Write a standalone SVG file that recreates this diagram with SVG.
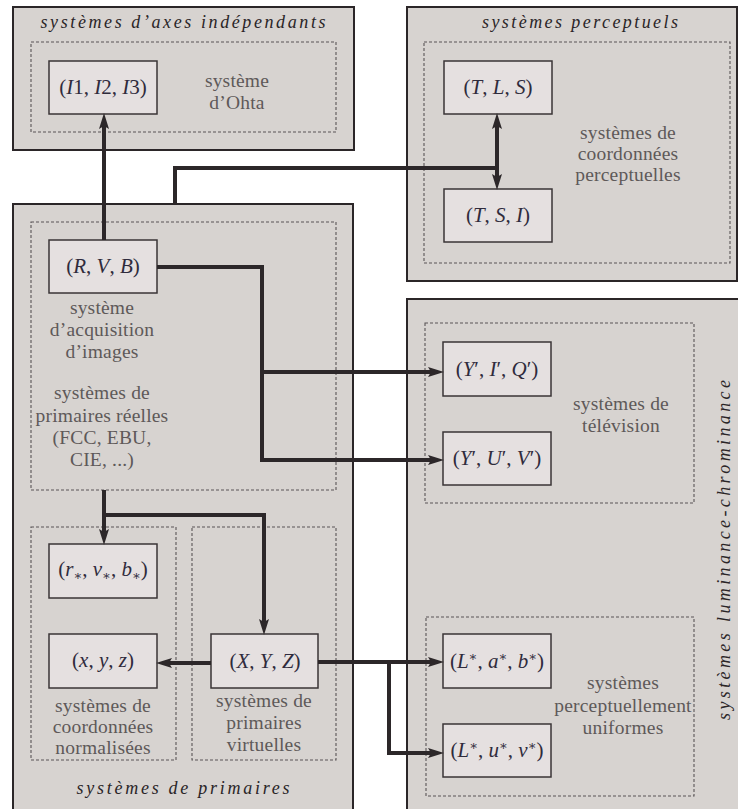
<svg xmlns="http://www.w3.org/2000/svg" width="738" height="809" viewBox="0 0 738 809">
<style>
.panel{fill:#d7d3d0;stroke:#2b2628;stroke-width:2}
.dash{fill:none;stroke:#5a5556;stroke-width:1.1;stroke-dasharray:3 2}
.node{fill:#e5e0e0;stroke:#3a3536;stroke-width:1.5}
text{font-family:'Liberation Serif','Times New Roman','DejaVu Serif','Noto Serif',serif}
.title{font-style:italic;font-size:18px;fill:#2a2527;text-anchor:middle}
.lbl{font-size:19.5px;letter-spacing:0.2px;fill:#5e5959;text-anchor:middle}
.math{font-size:21px;fill:#2f2b3c;text-anchor:middle}
.v{font-style:italic}
.sm{font-size:13px}
.conn{fill:none;stroke:#2c2729;stroke-width:4;stroke-linejoin:miter}
</style>
<defs>
<marker id="ah" markerUnits="userSpaceOnUse" markerWidth="18" markerHeight="12" viewBox="0 0 18 12" refX="3" refY="5" orient="auto-start-reverse">
<path d="M0,0 L16,5 L0,10 L3,5 z" fill="#2c2729"/>
</marker>
</defs>

<g id="panel-axes">
<rect class="panel" x="13" y="7" width="341" height="143"/>
<text class="title" x="183" y="28" textLength="285" lengthAdjust="spacing">systèmes d’axes indépendants</text>
<rect class="dash" x="31" y="42" width="305" height="90"/>
<text class="lbl" x="237" y="87">système</text>
<text class="lbl" x="237" y="109">d’Ohta</text>
</g>

<g id="panel-perceptuels">
<rect class="panel" x="407" y="7" width="330" height="274"/>
<text class="title" x="580" y="28" textLength="196" lengthAdjust="spacing">systèmes perceptuels</text>
<rect class="dash" x="424" y="42" width="306" height="221"/>
<text class="lbl" x="628" y="139">systèmes de</text>
<text class="lbl" x="628" y="160">coordonnées</text>
<text class="lbl" x="628" y="181">perceptuelles</text>
</g>

<g id="panel-primaires">
<rect class="panel" x="13" y="204" width="340" height="620"/>
<rect class="dash" x="31" y="222" width="305" height="268"/>
<rect class="dash" x="31" y="527" width="145" height="233"/>
<rect class="dash" x="192" y="527" width="144" height="233"/>
<text class="lbl" x="102" y="314">système</text>
<text class="lbl" x="102" y="336">d’acquisition</text>
<text class="lbl" x="102" y="358">d’images</text>
<text class="lbl" x="102" y="399">systèmes de</text>
<text class="lbl" x="102" y="422">primaires réelles</text>
<text class="lbl" x="102" y="444">(FCC, EBU,</text>
<text class="lbl" x="102" y="466">CIE, ...)</text>
<text class="lbl" x="103" y="712">systèmes de</text>
<text class="lbl" x="103" y="733">coordonnées</text>
<text class="lbl" x="103" y="754">normalisées</text>
<text class="lbl" x="264" y="707">systèmes de</text>
<text class="lbl" x="264" y="729">primaires</text>
<text class="lbl" x="264" y="751">virtuelles</text>
<text class="title" x="183" y="794" textLength="213" lengthAdjust="spacing">systèmes de primaires</text>
</g>

<g id="panel-luminance">
<rect class="panel" x="407" y="299" width="340" height="530"/>
<rect class="dash" x="425" y="323" width="269" height="180"/>
<rect class="dash" x="426" y="617" width="268" height="179"/>
<text class="lbl" x="621" y="410">systèmes de</text>
<text class="lbl" x="621" y="432">télévision</text>
<text class="lbl" x="623" y="689">systèmes</text>
<text class="lbl" x="623" y="712">perceptuellement</text>
<text class="lbl" x="623" y="734">uniformes</text>
<text class="title" transform="translate(730,550) rotate(-90)" x="0" y="0" textLength="340" lengthAdjust="spacing">systèmes luminance-chrominance</text>
</g>

<g id="n-I123">
<rect class="node" x="49" y="61" width="108" height="53"/>
<text class="math" x="103" y="94">(<tspan class="v">I</tspan>1, <tspan class="v">I</tspan>2, <tspan class="v">I</tspan>3)</text>
</g>
<g id="n-TLS">
<rect class="node" x="444" y="61" width="108" height="53"/>
<text class="math" x="498" y="94">(<tspan class="v">T</tspan>, <tspan class="v">L</tspan>, <tspan class="v">S</tspan>)</text>
</g>
<g id="n-TSI">
<rect class="node" x="444" y="189" width="108" height="53"/>
<text class="math" x="498" y="222">(<tspan class="v">T</tspan>, <tspan class="v">S</tspan>, <tspan class="v">I</tspan>)</text>
</g>
<g id="n-RVB">
<rect class="node" x="49" y="240" width="108" height="53"/>
<text class="math" x="103" y="273">(<tspan class="v">R</tspan>, <tspan class="v">V</tspan>, <tspan class="v">B</tspan>)</text>
</g>
<g id="n-YIQ">
<rect class="node" x="443" y="342" width="108" height="54"/>
<text class="math" x="497" y="376">(<tspan class="v">Y</tspan>′, <tspan class="v">I</tspan>′, <tspan class="v">Q</tspan>′)</text>
</g>
<g id="n-YUV">
<rect class="node" x="443" y="432" width="108" height="53"/>
<text class="math" x="497" y="465">(<tspan class="v">Y</tspan>′, <tspan class="v">U</tspan>′, <tspan class="v">V</tspan>′)</text>
</g>
<g id="n-rvb">
<rect class="node" x="49" y="544" width="108" height="54"/>
<text class="math" x="103" y="576">(<tspan class="v">r</tspan><tspan class="sm" dy="4">∗</tspan><tspan dy="-4">, </tspan><tspan class="v">v</tspan><tspan class="sm" dy="4">∗</tspan><tspan dy="-4">, </tspan><tspan class="v">b</tspan><tspan class="sm" dy="4">∗</tspan><tspan dy="-4">)</tspan></text>
</g>
<g id="n-xyz">
<rect class="node" x="49" y="634" width="108" height="54"/>
<text class="math" x="103" y="667">(<tspan class="v">x</tspan>, <tspan class="v">y</tspan>, <tspan class="v">z</tspan>)</text>
</g>
<g id="n-XYZ">
<rect class="node" x="211" y="634" width="107" height="54"/>
<text class="math" x="265" y="668">(<tspan class="v">X</tspan>, <tspan class="v">Y</tspan>, <tspan class="v">Z</tspan>)</text>
</g>
<g id="n-Lab">
<rect class="node" x="443" y="634" width="108" height="54"/>
<text class="math" x="497" y="668">(<tspan class="v">L</tspan><tspan class="sm" dy="-7">∗</tspan><tspan dy="7">, </tspan><tspan class="v">a</tspan><tspan class="sm" dy="-7">∗</tspan><tspan dy="7">, </tspan><tspan class="v">b</tspan><tspan class="sm" dy="-7">∗</tspan><tspan dy="7">)</tspan></text>
</g>
<g id="n-Luv">
<rect class="node" x="443" y="724" width="108" height="53"/>
<text class="math" x="497" y="757">(<tspan class="v">L</tspan><tspan class="sm" dy="-7">∗</tspan><tspan dy="7">, </tspan><tspan class="v">u</tspan><tspan class="sm" dy="-7">∗</tspan><tspan dy="7">, </tspan><tspan class="v">v</tspan><tspan class="sm" dy="-7">∗</tspan><tspan dy="7">)</tspan></text>
</g>

<g id="connectors">
<path class="conn" d="M104,240 V126" marker-end="url(#ah)"/>
<path class="conn" d="M175,204 V168 H497"/>
<path class="conn" d="M497,126 V177" marker-start="url(#ah)" marker-end="url(#ah)"/>
<path class="conn" d="M157,267 H262 V460 H431" marker-end="url(#ah)"/>
<path class="conn" d="M262,372 H431" marker-end="url(#ah)"/>
<path class="conn" d="M104,490 V532" marker-end="url(#ah)"/>
<path class="conn" d="M104,515 H264 V622" marker-end="url(#ah)"/>
<path class="conn" d="M211,663 H169" marker-end="url(#ah)"/>
<path class="conn" d="M318,662 H431" marker-end="url(#ah)"/>
<path class="conn" d="M389,662 V753 H431" marker-end="url(#ah)"/>
</g>
</svg>
